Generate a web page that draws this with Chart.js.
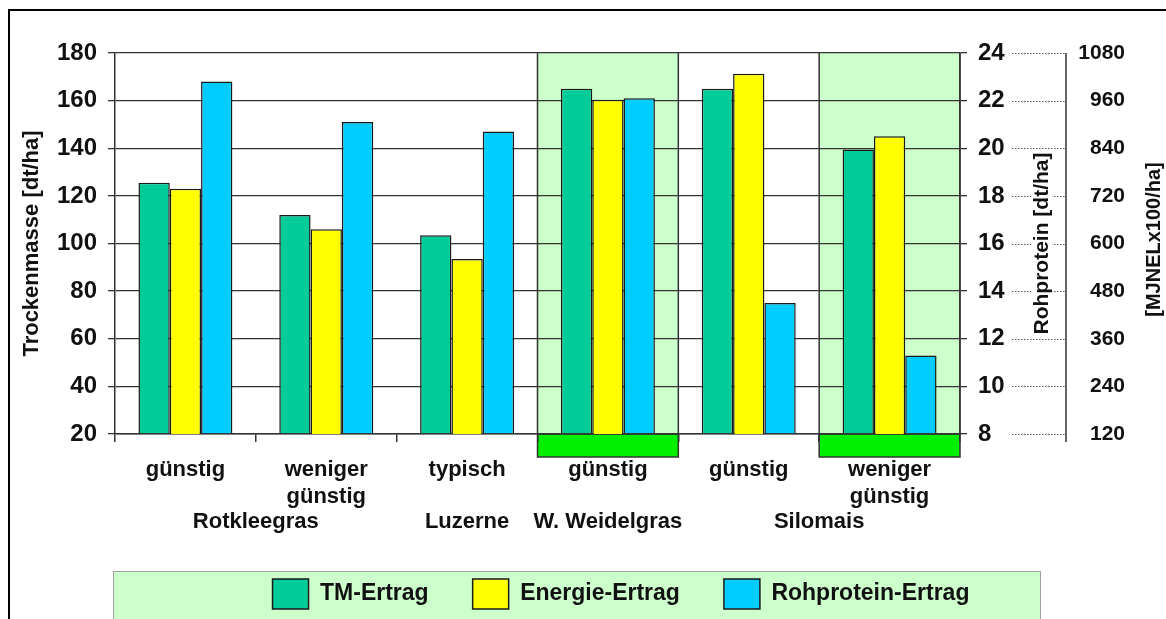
<!DOCTYPE html>
<html lang="de">
<head>
<meta charset="utf-8">
<title>Ertrag</title>
<script src="https://cdn.jsdelivr.net/npm/chart.js@4.4.1/dist/chart.umd.min.js"></script>
<style>
  html, body { margin: 0; padding: 0; background: #fff; overflow: hidden; }
  #rahmen { position: absolute; left: 8px; top: 9px; width: 1200px; height: 700px; border: 2px solid #000; }
  #grafico { position: absolute; left: 0; top: 0; }
</style>
</head>
<body>
<div id="rahmen"></div>
<canvas id="grafico" width="1166" height="619"></canvas>
<script>
// Kategorien (x-Achse) und Gruppen darunter
const kategorien = [['günstig'], ['weniger', 'günstig'], ['typisch'], ['günstig'], ['günstig'], ['weniger', 'günstig']];
const gruppen = ['Rotkleegras', 'Luzerne', 'W. Weidelgras', 'Silomais'];
const gruppenPosition = [1, 2.5, 3.5, 5];
const hervorgehoben = [false, false, false, true, false, true];

// Werte
const tmErtrag = [125.5, 112, 103.5, 165, 165, 139.5];          // dt/ha
const energieErtrag = [738, 636, 561, 962, 1028, 870];          // MJNEL x100/ha
const rohproteinErtrag = [22.8, 21.1, 20.7, 22.1, 13.5, 11.3];  // dt/ha

// Achsen
const achseTM = { min: 20, max: 180, step: 20 };
const achseRP = { min: 8, max: 24, step: 2 };
const achseMJNEL = { min: 120, max: 1080, step: 120 };

Chart.defaults.font.family = "'Liberation Sans', Arial, sans-serif";
Chart.defaults.font.weight = 'bold';
Chart.defaults.color = '#111';

function tituloVertical(ctx, texto, x, y, tamanho, fundoBranco) {
  ctx.save();
  ctx.translate(x, y);
  ctx.rotate(-Math.PI / 2);
  ctx.font = `bold ${tamanho}px 'Liberation Sans', Arial, sans-serif`;
  ctx.textAlign = 'center';
  ctx.textBaseline = 'middle';
  if (fundoBranco) {
    const w = ctx.measureText(texto).width;
    ctx.fillStyle = '#fff';
    ctx.fillRect(-w / 2 - 3, -tamanho / 2, w + 6, tamanho);
  }
  ctx.fillStyle = '#111';
  ctx.fillText(texto, 0, 0);
  ctx.restore();
}

const extras = {
  id: 'extras',
  afterLayout(chart) {
    // Legende etwas nach rechts verschieben
    const lg = chart.legend;
    const p = lg.options.labels.padding;
    const larg = lg.lineWidths[0] - p;
    const d = (621 - larg / 2) - (lg.left + p);
    lg.left += d;
    lg.right += d;
  },
  beforeDraw(chart) {
    const { ctx, chartArea, scales: { x } } = chart;
    const larg = x.width / kategorien.length;
    const lg = chart.legend;
    ctx.save();
    // Hintergrund der Legende
    ctx.fillStyle = '#ccffcc';
    ctx.fillRect(chartArea.left - 2, lg.bottom - 48, 927, 60);
    ctx.strokeStyle = '#a0a0a0';
    ctx.lineWidth = 1;
    ctx.strokeRect(chartArea.left - 1.5, lg.bottom - 47.5, 927, 60);
    // hervorgehobene Kategorien
    hervorgehoben.forEach((on, i) => {
      if (!on) return;
      const cx = x.getPixelForValue(i);
      const l = cx - larg / 2, r = cx + larg / 2;
      ctx.fillStyle = '#ccffcc';
      ctx.fillRect(l, chartArea.top, larg, chartArea.bottom - chartArea.top);
      ctx.fillStyle = '#00f000';
      ctx.fillRect(l, chartArea.bottom, larg, 23);
      ctx.strokeStyle = '#333';
      ctx.lineWidth = 1.5;
      ctx.strokeRect(l, chartArea.bottom, larg, 23);
      ctx.beginPath();
      ctx.moveTo(l, chartArea.top); ctx.lineTo(l, chartArea.bottom);
      ctx.moveTo(r, chartArea.top); ctx.lineTo(r, chartArea.bottom);
      ctx.stroke();
    });
    ctx.restore();
  },
  afterDraw(chart) {
    const { ctx, scales: { y2, y3 } } = chart;
    const xIni = y2.left + 52, xLinha = y3.left + 6;
    ctx.save();
    ctx.strokeStyle = '#555';
    ctx.lineWidth = 1;
    ctx.setLineDash([1.5, 1.5]);
    y3.ticks.forEach(t => {
      const py = Math.round(y3.getPixelForValue(t.value)) + 0.5;
      ctx.beginPath();
      ctx.moveTo(xIni, py);
      ctx.lineTo(xLinha, py);
      ctx.stroke();
    });
    ctx.setLineDash([]);
    ctx.strokeStyle = '#333';
    ctx.lineWidth = 1.5;
    ctx.beginPath();
    ctx.moveTo(xLinha, y3.top);
    ctx.lineTo(xLinha, y3.bottom + 8);
    ctx.stroke();
    const meio = (y2.top + y2.bottom) / 2;
    tituloVertical(ctx, 'Rohprotein [dt/ha]', y2.left + 82, meio, 21, true);
    tituloVertical(ctx, '[MJNELx100/ha]', y3.right + 29, meio - 4, 20, false);
    ctx.restore();
  }
};

new Chart(document.getElementById('grafico'), {
  type: 'bar',
  data: {
    labels: kategorien,
    datasets: [
      { label: 'TM-Ertrag', data: tmErtrag, yAxisID: 'y', base: achseTM.min, backgroundColor: '#00cc99' },
      { label: 'Energie-Ertrag', data: energieErtrag, yAxisID: 'y3', base: achseMJNEL.min, backgroundColor: '#ffff00' },
      { label: 'Rohprotein-Ertrag', data: rohproteinErtrag, yAxisID: 'y2', base: achseRP.min, backgroundColor: '#00ccff' }
    ]
  },
  options: {
    responsive: false,
    animation: false,
    datasets: {
      bar: { borderColor: '#1a1a1a', borderWidth: 1.5, categoryPercentage: 0.667, barPercentage: 1 }
    },
    layout: { padding: { left: 10, right: 41, top: 53, bottom: 0 } },
    scales: {
      x: {
        ticks: { font: { size: 22 }, padding: 15, autoSkip: false, maxRotation: 0 },
        grid: { drawOnChartArea: false, offset: true, tickLength: 8, color: '#333', lineWidth: 1.5 },
        border: { color: '#333', width: 1.5 },
        afterFit: s => { s.height = 75; }
      },
      x2: {
        type: 'linear',
        position: 'bottom',
        weight: 1,
        offset: false,
        min: 0,
        max: 6,
        grid: { display: false, drawTicks: false, offset: false },
        border: { display: false },
        ticks: {
          font: { size: 22 }, padding: 0, autoSkip: false, maxRotation: 0,
          callback: v => gruppen[gruppenPosition.indexOf(v)] || ''
        },
        afterBuildTicks: s => { s.ticks = gruppenPosition.map(v => ({ value: v })); },
        afterFit: s => { s.height = 26; }
      },
      y: {
        position: 'left',
        min: achseTM.min,
        max: achseTM.max,
        ticks: { stepSize: achseTM.step, padding: 11, font: { size: 24 } },
        grid: { color: '#333', lineWidth: 1.3, tickLength: 7 },
        border: { color: '#333', width: 1.5 },
        title: { display: true, text: 'Trockenmasse [dt/ha]', font: { size: 22 }, color: '#111', padding: { top: 9, bottom: 0 } },
        afterFit: s => { s.width = 105; }
      },
      y2: {
        position: 'right',
        min: achseRP.min,
        max: achseRP.max,
        ticks: { stepSize: achseRP.step, padding: 11, font: { size: 24 } },
        grid: { drawOnChartArea: false, color: '#333', lineWidth: 1.3, tickLength: 7 },
        border: { color: '#333', width: 1.5 },
        afterFit: s => { s.width = 100; }
      },
      y3: {
        position: 'right',
        weight: 1,
        min: achseMJNEL.min,
        max: achseMJNEL.max,
        ticks: { stepSize: achseMJNEL.step, padding: 18, crossAlign: 'far', font: { size: 21 }, callback: v => String(v) },
        grid: { display: false, drawTicks: false },
        border: { display: false },
        afterFit: s => { s.width = 65; }
      }
    },
    plugins: {
      legend: {
        position: 'bottom',
        align: 'start',
        labels: { boxWidth: 36, boxHeight: 30, padding: 44, font: { size: 23 }, color: '#111' }
      },
      tooltip: { enabled: false }
    }
  },
  plugins: [extras]
});
</script>
</body>
</html>
